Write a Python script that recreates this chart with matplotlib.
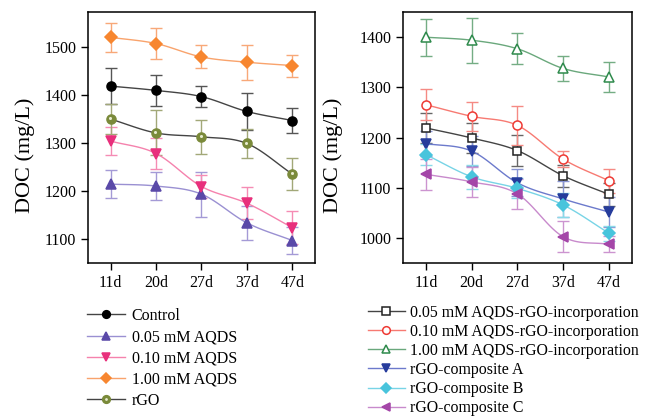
import numpy as np
import matplotlib
matplotlib.use('Agg')
import matplotlib.pyplot as plt
from matplotlib.lines import Line2D
from matplotlib.legend_handler import HandlerTuple

plt.rcParams['font.family'] = ['Liberation Serif', 'DejaVu Serif']

#---------Data------------------------
days = ['11d', '20d', '27d', '37d', '47d']

# left panel
control = [1419, 1410, 1397, 1366, 1347]
control_err = [38, 32, 22, 38, 27]
aqds_005 = [1214, 1210, 1193, 1133, 1096]
aqds_005_err = [30, 30, 47, 35, 29]
aqds_010 = [1304, 1278, 1209, 1174, 1123]
aqds_010_err = [30, 33, 25, 34, 35]
aqds_100 = [1521, 1508, 1480, 1469, 1462]
aqds_100_err = [30, 33, 24, 37, 23]
rgo = [1350, 1321, 1313, 1299, 1235]
rgo_err = [32, 47, 36, 30, 34]

# right panel
inc_005 = [1219, 1199, 1174, 1124, 1087]
inc_005_err = [30, 30, 30, 22, 22]
inc_010 = [1265, 1242, 1224, 1157, 1114]
inc_010_err = [31, 29, 38, 16, 24]
inc_100 = [1399, 1393, 1376, 1337, 1320]
inc_100_err = [37, 45, 31, 24, 30]
comp_a = [1188, 1173, 1110, 1078, 1052]
comp_a_err = [25, 30, 27, 36, 30]
comp_b = [1166, 1122, 1099, 1066, 1010]
comp_b_err = [21, 24, 20, 24, 15]
comp_c = [1127, 1112, 1088, 1003, 988]
comp_c_err = [31, 30, 30, 31, 16]


def smooth(x, y, n=30):
    # Catmull-Rom curve through the points, only for drawing the connecting line
    x = np.asarray(x, float); y = np.asarray(y, float)
    px = np.concatenate([[2*x[0]-x[1]], x, [2*x[-1]-x[-2]]])
    py = np.concatenate([[2*y[0]-y[1]], y, [2*y[-1]-y[-2]]])
    xs, ys = [], []
    t = np.linspace(0, 1, n)
    for i in range(1, len(px)-2):
        for p, out in ((px, xs), (py, ys)):
            p0, p1, p2, p3 = p[i-1], p[i], p[i+1], p[i+2]
            out.append(0.5*((2*p1) + (-p0+p2)*t + (2*p0-5*p1+4*p2-p3)*t**2 + (-p0+3*p1-3*p2+p3)*t**3))
    return np.concatenate(xs), np.concatenate(ys)


def draw(ax, y, err, line_c, mark_c, err_c, marker, ms=6.5, filled=True):
    x = np.arange(len(days))
    ax.errorbar(x, y, yerr=err, fmt='none', ecolor=err_c, elinewidth=1.0, capsize=4.5, capthick=1.0, zorder=2)
    sx, sy = smooth(x, y)
    ax.plot(sx, sy, color=line_c, lw=1.0, zorder=3)
    fc = mark_c if filled else 'white'
    ax.plot(x, y, linestyle='', marker=marker, ms=ms, mfc=fc, mec=mark_c, mew=1.1, zorder=4)
    return Line2D([], [], color=line_c, lw=1.0, marker=marker, ms=ms*0.85, mfc=fc, mec=mark_c, mew=1.1)


fig = plt.figure(figsize=(6.45, 4.2), dpi=100)
ax1 = fig.add_axes([0.1364, 0.3738, 0.352, 0.5976])
ax2 = fig.add_axes([0.6248, 0.3738, 0.355, 0.5976])

h1 = []
h1.append(draw(ax1, control, control_err, '#444444', '#000000', '#555555', 'o'))
h1.append(draw(ax1, aqds_005, aqds_005_err, '#9a90d2', '#5a49a8', '#a49ad6', '^'))
h1.append(draw(ax1, aqds_010, aqds_010_err, '#f582ad', '#e8307c', '#f58cb4', 'v'))
h1.append(draw(ax1, aqds_100, aqds_100_err, '#f9a36c', '#f7862f', '#f8a878', 'D', ms=5.8))
h_rgo = draw(ax1, rgo, rgo_err, '#444444', '#7a8a3a', '#a2a878', 'o')
ax1.plot(np.arange(len(days)) - 0.015, np.array(rgo) + 2, linestyle='', marker='o', ms=2.2,
         mfc='#e8ecd0', mec='none', zorder=5)
h1.append((h_rgo, Line2D([], [], linestyle='', marker='o', ms=2.0, mfc='#e8ecd0', mec='none')))
labels1 = ['Control', '0.05 mM AQDS', '0.10 mM AQDS', '1.00 mM AQDS', 'rGO']

h2 = []
h2.append(draw(ax2, inc_005, inc_005_err, '#444444', '#222222', '#666666', 's', ms=6, filled=False))
h2.append(draw(ax2, inc_010, inc_010_err, '#f77a72', '#ee3a34', '#f58a84', 'o', filled=False))
h2.append(draw(ax2, inc_100, inc_100_err, '#6aa87c', '#2e8a4c', '#74ad84', '^', ms=7.5, filled=False))
h2.append(draw(ax2, comp_a, comp_a_err, '#6c7acc', '#263c9c', '#8894d4', 'v'))
h2.append(draw(ax2, comp_b, comp_b_err, '#78d4e6', '#48c4dc', '#8adbe8', 'D', ms=5.8))
h2.append(draw(ax2, comp_c, comp_c_err, '#c88acc', '#a446a8', '#cc94d0', '<'))
labels2 = ['0.05 mM AQDS-rGO-incorporation', '0.10 mM AQDS-rGO-incorporation',
           '1.00 mM AQDS-rGO-incorporation', 'rGO-composite A', 'rGO-composite B', 'rGO-composite C']

for ax, lim, ticks in ((ax1, (1049, 1574), [1100, 1200, 1300, 1400, 1500]),
                       (ax2, (951, 1449), [1000, 1100, 1200, 1300, 1400])):
    ax.set_xlim(-0.5, 4.5)
    ax.set_ylim(*lim)
    ax.set_yticks(ticks)
    ax.set_xticks(range(len(days)))
    ax.set_xticklabels(days)
    ax.tick_params(direction='out', length=5, width=1, labelsize=11.5, top=False, right=False)
    for s in ax.spines.values():
        s.set_linewidth(1.1)
    ax.set_ylabel('DOC (mg/L)', fontsize=16)

ax1.yaxis.set_label_coords(-0.232, 0.43)
ax2.yaxis.set_label_coords(-0.262, 0.43)

fig.legend(h1, labels1, loc='upper left', bbox_to_anchor=(0.125, 0.282), frameon=False,
           fontsize=11.5, handlelength=2.4, handletextpad=0.4, labelspacing=0.33,
           borderaxespad=0, handler_map={tuple: HandlerTuple(ndivide=1)})
fig.legend(h2, labels2, loc='upper left', bbox_to_anchor=(0.561, 0.29), frameon=False,
           fontsize=11.4, handlelength=2.3, handletextpad=0.35, labelspacing=0.2,
           borderaxespad=0)

fig.savefig('out.png', dpi=100)
